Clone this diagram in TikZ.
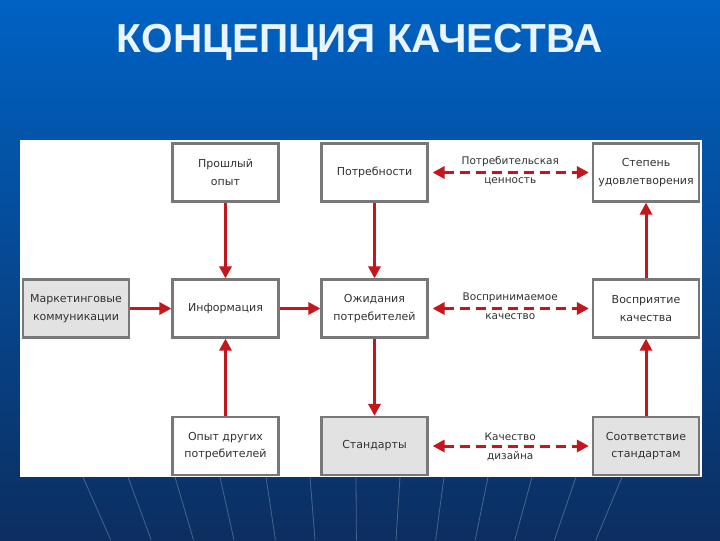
\documentclass[tikz,border=0pt]{standalone}
\usepackage{fontspec}
\setmainfont{DejaVu Sans}
\newfontfamily\titlefont{Liberation Sans}
\usetikzlibrary{arrows.meta}
\definecolor{slidetop}{RGB}{0,98,196}
\definecolor{slidebottom}{RGB}{12,46,96}
\definecolor{titlewhite}{RGB}{232,244,255}
\definecolor{arrowred}{RGB}{196,22,28}
\definecolor{boxline}{RGB}{120,120,120}
\definecolor{boxgray}{RGB}{226,226,226}
\definecolor{boxtext}{RGB}{50,50,50}

\begin{document}
\begin{tikzpicture}[x=1pt, y=-1pt,
	box/.style={draw=boxline, line width=2.2pt, fill=white, minimum width=106pt, minimum height=58pt, align=center, text=boxtext, font=\fontsize{11}{17.5}\selectfont},
	graybox/.style={box, fill=boxgray},
	link/.style={arrowred, line width=3pt, -{Triangle[length=12pt,width=12pt]}},
	twoway/.style={arrowred, line width=3pt, dash pattern=on 10pt off 6pt, {Triangle[length=12pt,width=12pt]}-{Triangle[length=12pt,width=12pt]}, shorten <=4pt, shorten >=3pt},
	lbl/.style={text=boxtext, inner sep=1pt, font=\fontsize{10.5}{12}\selectfont}]
	% slide
	\fill[top color=slidetop, bottom color=slidebottom] (0,0) rectangle (720,540);
	\foreach \x in {83,128,175,220,266,310,356,400,444,488,532,576,622}
		\draw[white, opacity=0.25, line width=0.8pt] (\x,477) -- ({\x+(360-\x)*0.1},540);
	\node[font=\titlefont\bfseries\fontsize{40.5}{40}\selectfont, text=titlewhite] (title) at (360,42) {КОНЦЕПЦИЯ КАЧЕСТВА};
	\fill[white] (20,140) rectangle (702,477);
	
	\node[graybox] (mark) at (76,308.5) {Маркетинговые\\коммуникации};
	\node[box] (past) at (225.5,172.5) {Прошлый\\опыт};
	\node[box] (info) at (225.5,308.5) {Информация};
	\node[box] (others) at (225.5,446) {Опыт других\\потребителей};
	\node[box] (needs) at (374.5,172.5) {Потребности};
	\node[box] (expect) at (374.5,308.5) {Ожидания\\потребителей};
	\node[graybox] (stand) at (374.5,446) {Стандарты};
	\node[box] (degree) at (646,172.5) {Степень\\удовлетворения};
	\node[box] (percep) at (646,308.5) {Восприятие\\качества};
	\node[graybox] (confor) at (646,446) {Соответствие\\стандартам};
	
	% into information
	\draw[link] (past) -- (info);
	\draw[link] (others) -- (info);
	\draw[link] (mark) -- (info);
	% expectations
	\draw[link] (info) -- (expect);
	\draw[link] (needs) -- (expect);
	\draw[link] (expect) -- (stand);
	% right column
	\draw[link] (confor) -- (percep);
	\draw[link] (percep) -- (degree);
	% gaps
	\draw[twoway] (needs) -- (degree) node[lbl, midway, above=3pt] {Потребительская} node[lbl, midway, below=3pt] {ценность};
	\draw[twoway] (expect) -- (percep) node[lbl, midway, above=3pt] {Воспринимаемое} node[lbl, midway, below=3pt] {качество};
	\draw[twoway] (stand) -- (confor) node[lbl, midway, above=3pt] {Качество} node[lbl, midway, below=3pt] {дизайна};
\end{tikzpicture}
\end{document}
